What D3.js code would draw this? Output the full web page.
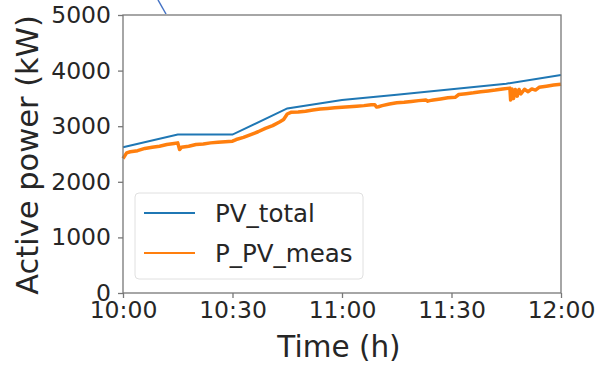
<!DOCTYPE html>
<html lang="en">
<head>
  <meta charset="utf-8" />
  <title>Active power</title>
  <script src="https://cdn.jsdelivr.net/npm/d3@7"></script>
  <style>
    body { margin: 0; background: #fff; }
    text { font-family: "DejaVu Sans", sans-serif; fill: #262626; }
  </style>
</head>
<body>
  <script>
    // minutes after 10:00 and power in kW
    var pvTotalMin = [0, 15, 30, 45, 60, 75, 90, 105, 120];
    var pvTotalKw = [2620, 2850, 2850, 3320, 3470, 3565, 3665, 3765, 3920];

    var measMin = [0, 1, 2, 4, 6, 8, 10, 12, 14, 15, 15.5, 16, 17, 18, 20, 22, 24, 26, 28, 30,
      31, 33, 35, 37, 39, 41, 43, 44, 45, 46, 48, 50, 52, 54, 56, 58, 60, 62, 64, 66, 68, 69,
      69.5, 70, 71, 73, 75, 77, 79, 81, 83, 83.5, 84, 85, 87, 89, 91, 92, 94, 96, 98, 100, 102,
      104, 106, 106.2, 106.6, 107, 107.5, 108, 108.5, 109, 110, 111, 112, 113, 114, 116, 118, 120];
    var measKw = [2420, 2520, 2540, 2560, 2600, 2620, 2640, 2670, 2690, 2700, 2580, 2620, 2630, 2640, 2670, 2680, 2700, 2710, 2720, 2730,
      2760, 2800, 2850, 2900, 2960, 3010, 3080, 3120, 3220, 3250, 3255, 3270, 3290, 3310, 3320, 3330, 3340, 3350, 3360, 3370, 3385, 3385,
      3345, 3350, 3370, 3400, 3420, 3430, 3445, 3460, 3470, 3450, 3460, 3470, 3490, 3510, 3520, 3570, 3585, 3600, 3620, 3635, 3650,
      3670, 3685, 3470, 3670, 3500, 3660, 3540, 3660, 3580, 3665, 3620, 3670, 3650, 3700, 3720, 3740, 3755];

    var yTicks = [0, 1000, 2000, 3000, 4000, 5000];
    var seriesNames = ["PV_total", "P_PV_meas"];
    var seriesColors = ["#1f77b4", "#ff7f0e"];

    var width = 600, height = 366;
    var margin = { left: 123, right: 39, top: 15, bottom: 73 };
    var t0 = new Date(2020, 0, 1, 10, 0);
    function toTime(m) { return new Date(t0.getTime() + m * 60000); }

    var svg = d3.select("body").append("svg")
      .attr("width", width).attr("height", height);

    var x = d3.scaleTime()
      .domain([toTime(0), toTime(120)])
      .range([margin.left, width - margin.right]);
    var y = d3.scaleLinear()
      .domain([0, 5000])
      .range([height - margin.bottom, margin.top]);

    // stray annotation stroke from the source document
    svg.append("line")
      .attr("x1", 158).attr("y1", 0).attr("x2", 166).attr("y2", 14)
      .attr("stroke", "#4472c4").attr("stroke-width", 1.5);

    var line = d3.line()
      .x(function(d) { return x(toTime(d[0])); })
      .y(function(d) { return y(d[1]); });

    svg.append("path")
      .datum(d3.zip(measMin, measKw))
      .attr("d", line)
      .attr("fill", "none")
      .attr("stroke", seriesColors[1])
      .attr("stroke-width", 3.5)
      .attr("stroke-linejoin", "round");

    svg.append("path")
      .datum(d3.zip(pvTotalMin, pvTotalKw))
      .attr("d", line)
      .attr("fill", "none")
      .attr("stroke", seriesColors[0])
      .attr("stroke-width", 2);

    // frame
    svg.append("rect")
      .attr("x", margin.left).attr("y", margin.top)
      .attr("width", width - margin.left - margin.right)
      .attr("height", height - margin.top - margin.bottom)
      .attr("fill", "none").attr("stroke", "#777").attr("stroke-width", 1.3);

    var xAxis = svg.append("g")
      .attr("transform", "translate(0," + (height - margin.bottom) + ")")
      .call(d3.axisBottom(x)
        .ticks(d3.timeMinute.every(30))
        .tickFormat(d3.timeFormat("%H:%M"))
        .tickSize(5).tickPadding(3));

    var yAxis = svg.append("g")
      .attr("transform", "translate(" + margin.left + ",0)")
      .call(d3.axisLeft(y).tickValues(yTicks).tickFormat(d3.format("d"))
        .tickSize(5).tickPadding(7));

    [xAxis, yAxis].forEach(function(g) {
      g.select(".domain").remove();
      g.selectAll(".tick line").attr("stroke", "#777").attr("stroke-width", 1.3);
      g.selectAll(".tick text").style("font-size", "23.5px").attr("fill", "#262626");
    });

    svg.append("text")
      .attr("transform", "translate(38,155) rotate(-90)")
      .attr("text-anchor", "middle")
      .style("font-size", "30.5px")
      .text("Active power (kW)");

    svg.append("text")
      .attr("x", 339).attr("y", 357)
      .attr("text-anchor", "middle")
      .style("font-size", "29.5px")
      .text("Time (h)");

    // legend
    var legend = svg.append("g");
    legend.append("rect")
      .attr("x", 135).attr("y", 193).attr("width", 228).attr("height", 86)
      .attr("rx", 4)
      .attr("fill", "#fff").attr("fill-opacity", 0.8)
      .attr("stroke", "#e0e0e0");

    var items = legend.selectAll(".item")
      .data(seriesNames)
      .enter().append("g")
      .attr("transform", function(d, i) { return "translate(0," + (213 + i * 40) + ")"; });
    items.append("line")
      .attr("x1", 144).attr("x2", 195)
      .attr("stroke", function(d, i) { return seriesColors[i]; })
      .attr("stroke-width", 2);
    items.append("text")
      .attr("x", 215).attr("dy", "0.35em")
      .style("font-size", "24.5px")
      .text(function(d) { return d; });
  </script>
</body>
</html>
